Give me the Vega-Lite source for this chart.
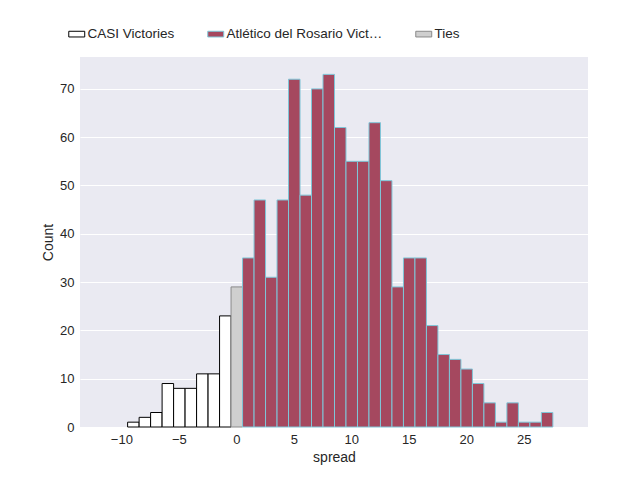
{
  "$schema": "https://vega.github.io/schema/vega-lite/v6.json",
  "width": 508,
  "height": 370,
  "autosize": "none",
  "padding": {"left": 80, "top": 57, "right": 52, "bottom": 53},
  "background": "white",
  "data": {
    "values": [
      {"spread": -11, "count": 1, "group": "CASI Victories"},
      {"spread": -9, "count": 1, "group": "CASI Victories"},
      {"spread": -8, "count": 2, "group": "CASI Victories"},
      {"spread": -7, "count": 3, "group": "CASI Victories"},
      {"spread": -6, "count": 9, "group": "CASI Victories"},
      {"spread": -5, "count": 8, "group": "CASI Victories"},
      {"spread": -4, "count": 8, "group": "CASI Victories"},
      {"spread": -3, "count": 11, "group": "CASI Victories"},
      {"spread": -2, "count": 11, "group": "CASI Victories"},
      {"spread": -1, "count": 23, "group": "CASI Victories"},
      {"spread": 0, "count": 29, "group": "Ties"},
      {"spread": 1, "count": 35, "group": "Atlético del Rosario Victories"},
      {"spread": 2, "count": 47, "group": "Atlético del Rosario Victories"},
      {"spread": 3, "count": 31, "group": "Atlético del Rosario Victories"},
      {"spread": 4, "count": 47, "group": "Atlético del Rosario Victories"},
      {"spread": 5, "count": 72, "group": "Atlético del Rosario Victories"},
      {"spread": 6, "count": 48, "group": "Atlético del Rosario Victories"},
      {"spread": 7, "count": 70, "group": "Atlético del Rosario Victories"},
      {"spread": 8, "count": 73, "group": "Atlético del Rosario Victories"},
      {"spread": 9, "count": 62, "group": "Atlético del Rosario Victories"},
      {"spread": 10, "count": 55, "group": "Atlético del Rosario Victories"},
      {"spread": 11, "count": 55, "group": "Atlético del Rosario Victories"},
      {"spread": 12, "count": 63, "group": "Atlético del Rosario Victories"},
      {"spread": 13, "count": 51, "group": "Atlético del Rosario Victories"},
      {"spread": 14, "count": 29, "group": "Atlético del Rosario Victories"},
      {"spread": 15, "count": 35, "group": "Atlético del Rosario Victories"},
      {"spread": 16, "count": 35, "group": "Atlético del Rosario Victories"},
      {"spread": 17, "count": 21, "group": "Atlético del Rosario Victories"},
      {"spread": 18, "count": 15, "group": "Atlético del Rosario Victories"},
      {"spread": 19, "count": 14, "group": "Atlético del Rosario Victories"},
      {"spread": 20, "count": 12, "group": "Atlético del Rosario Victories"},
      {"spread": 21, "count": 9, "group": "Atlético del Rosario Victories"},
      {"spread": 22, "count": 5, "group": "Atlético del Rosario Victories"},
      {"spread": 23, "count": 1, "group": "Atlético del Rosario Victories"},
      {"spread": 24, "count": 5, "group": "Atlético del Rosario Victories"},
      {"spread": 25, "count": 1, "group": "Atlético del Rosario Victories"},
      {"spread": 26, "count": 1, "group": "Atlético del Rosario Victories"},
      {"spread": 27, "count": 3, "group": "Atlético del Rosario Victories"}
    ]
  },
  "mark": {"type": "bar", "strokeWidth": 1, "binSpacing": 0},
  "encoding": {
    "x": {
      "field": "spread",
      "type": "quantitative",
      "bin": {"step": 1, "anchor": 0.5},
      "title": "spread",
      "scale": {"domain": [-13.6, 30.6], "nice": false, "zero": false},
      "axis": {"values": [-10, -5, 0, 5, 10, 15, 20, 25], "format": "d"}
    },
    "y": {
      "aggregate": "sum",
      "field": "count",
      "type": "quantitative",
      "title": "Count",
      "scale": {"domain": [0, 76.6], "nice": false},
      "axis": {"values": [0, 10, 20, 30, 40, 50, 60, 70]}
    },
    "fill": {
      "field": "group",
      "type": "nominal",
      "scale": {
        "domain": ["CASI Victories", "Atlético del Rosario Victories", "Ties"],
        "range": ["#ffffff", "#a5485f", "#cfcfcf"]
      },
      "legend": {
        "title": null,
        "orient": "none",
        "direction": "horizontal",
        "legendX": -10,
        "legendY": -30,
        "columnPadding": 30,
        "symbolType": "M-1.4,-0.5H1.4V0.5H-1.4Z",
        "symbolSize": 130,
        "symbolStrokeWidth": 1,
        "labelFontSize": 13.5,
        "labelColor": "#262626"
      }
    },
    "stroke": {
      "field": "group",
      "type": "nominal",
      "scale": {
        "domain": ["CASI Victories", "Atlético del Rosario Victories", "Ties"],
        "range": ["#000000", "#7fc6d8", "#8a8a8a"]
      },
      "legend": null
    }
  },
  "config": {
    "font": "Liberation Sans",
    "view": {"fill": "#eaeaf2", "stroke": null},
    "axis": {
      "gridColor": "white",
      "gridWidth": 1.2,
      "domain": false,
      "ticks": false,
      "labelFontSize": 13,
      "labelColor": "#262626",
      "titleFontSize": 14,
      "titleFontWeight": "normal",
      "titleColor": "#262626",
      "labelPadding": 6
    }
  }
}
